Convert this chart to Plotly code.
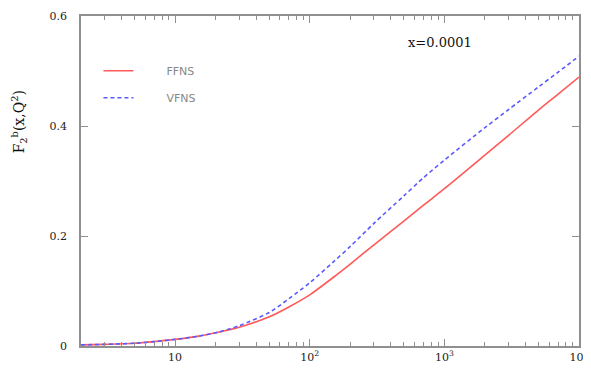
import plotly.graph_objects as go

q2 = [2, 3, 5, 7, 10, 15, 20, 30, 50, 70, 100, 150, 200, 300, 500, 700, 1000, 2000, 3000, 5000, 7000, 10000]
ffns = [0.002, 0.003, 0.005, 0.008, 0.012, 0.018, 0.024, 0.034, 0.053, 0.071, 0.093, 0.125, 0.149, 0.184, 0.227, 0.256, 0.286, 0.347, 0.383, 0.429, 0.458, 0.489]
vfns = [0.002, 0.003, 0.005, 0.008, 0.012, 0.018, 0.024, 0.037, 0.061, 0.086, 0.115, 0.153, 0.181, 0.223, 0.273, 0.306, 0.338, 0.397, 0.430, 0.471, 0.498, 0.527]
names = ["FFNS", "VFNS"]

xticks = [10, 100, 1000, 10000]
xticktext = ["10", "10<sup>2</sup>", "10<sup>3</sup>", "10<sup>4</sup>"]
xminor = [m * 10 ** k for k in range(0, 4) for m in range(2, 10) if 2 <= m * 10 ** k < 10000]
yticks = [0, 0.2, 0.4, 0.6]
yticktext = ["0", "0.2", "0.4", "0.6"]

pad = "\u00a0" * 8
fig = go.Figure()
fig.add_trace(go.Scatter(x=q2, y=ffns, mode="lines", name=pad + names[0], legendgroup="a",
                         line=dict(color="#ff5a5a", width=1.6, shape="spline", smoothing=0.8)))
fig.add_trace(go.Scatter(x=q2, y=vfns, mode="lines", name=pad + names[1], legendgroup="b",
                         line=dict(color="#5a5aff", width=1.6, dash="4px,3px", shape="spline", smoothing=0.8)))

axis_common = dict(showgrid=False, zeroline=False, showline=True, linecolor="#909090",
                   linewidth=1.5, mirror="ticks", ticks="inside", tickcolor="#909090",
                   ticklen=7, tickwidth=1, automargin=False,
                   tickfont=dict(family="DejaVu Serif, serif", size=11, color="#222"))

fig.update_xaxes(type="log", range=[0.30103, 4], tickvals=xticks, ticktext=xticktext,
                 minor=dict(ticks="inside", ticklen=4, tickcolor="#909090", tickvals=xminor),
                 **axis_common)
fig.update_yaxes(range=[0, 0.6], tickvals=yticks, ticktext=yticktext,
                 ticklabelstandoff=10, **axis_common)

fig.add_annotation(xref="paper", yref="paper", x=0.72, y=0.92, xanchor="center", yanchor="middle",
                   text="x=0.0001", showarrow=False,
                   font=dict(family="DejaVu Serif, serif", size=13, color="#111"))
fig.add_annotation(xref="paper", yref="paper", x=-0.125, y=0.68, xanchor="center", yanchor="middle",
                   text="F<sub>2</sub><sup>b</sup>(x,Q<sup>2</sup>)", textangle=-90, showarrow=False,
                   font=dict(family="DejaVu Serif, serif", size=14, color="#111"))

fig.update_layout(
    width=583, height=361,
    margin=dict(l=73, r=12, t=8, b=23),
    paper_bgcolor="white", plot_bgcolor="white",
    showlegend=True,
    legend=dict(x=0.035, y=0.878, xanchor="left", yanchor="top", bgcolor="rgba(0,0,0,0)",
                font=dict(family="DejaVu Sans, sans-serif", size=11, color="#888"),
                tracegroupgap=8, itemwidth=30),
)

fig.write_html("out.html")
